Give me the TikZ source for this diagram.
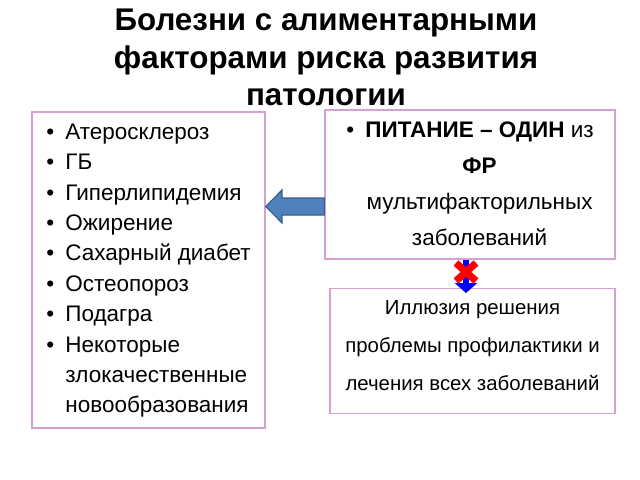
\documentclass[tikz,border=0pt]{standalone}
\usepackage{fontspec}
\setmainfont{Liberation Sans}
\usepackage{tikz}
\usetikzlibrary{arrows.meta}
\usetikzlibrary{calc}
\usetikzlibrary{positioning}
\definecolor{framecolour}{RGB}{214,160,214}
\definecolor{arrowfill}{RGB}{79,129,189}
\definecolor{arrowline}{RGB}{56,93,138}
\tikzstyle{frame}     = [draw=framecolour, line width=.9pt, fill=white, inner sep=0pt]
\tikzstyle{heading}   = [font=\bfseries\fontsize{22.3}{26.5}\selectfont, align=center, inner sep=0pt]
\tikzstyle{blockarrow}= [fill=arrowfill, draw=arrowline, line width=.8pt]
\tikzstyle{downarrow} = [draw=blue, line width=0.15cm, -{Triangle[width=0.55cm, length=0.25cm]}]
\tikzstyle{crossout}  = [draw=red, line width=0.18cm]

\begin{document}
\begin{tikzpicture}[x=0.025cm, y=-0.025cm]
    \useasboundingbox (0,0) rectangle (640,480);
    \draw (326,9) node[heading, anchor=north] (title)
      {Болезни с алиментарными\\факторами риска развития\\патологии};
    \draw (148.5,270) node[frame, minimum width=5.825cm, minimum height=7.9cm] (risks)
      {\fontsize{16}{21.6}\selectfont
       \begin{tabular}{@{}l@{\hspace{8pt}}l@{}}
       \textbullet & Атеросклероз\\
       \textbullet & ГБ\\
       \textbullet & Гиперлипидемия\\
       \textbullet & Ожирение\\
       \textbullet & Сахарный диабет\\
       \textbullet & Остеопороз\\
       \textbullet & Подагра\\
       \textbullet & Некоторые\\
                   & злокачественные\\
                   & новообразования
       \end{tabular}};
    \draw (470,184.5) node[frame, minimum width=7.25cm, minimum height=3.725cm] (food)
      {\fontsize{16}{25.6}\selectfont
       \begin{tabular}{@{}l@{\hspace{8pt}}c@{}}
       \textbullet & \textbf{ПИТАНИЕ – ОДИН} из\\
                   & \textbf{ФР}\\
                   & мультифакторильных\\
                   & заболеваний
       \end{tabular}};
    \draw (472.5,351) node[frame, minimum width=7.125cm, minimum height=3.05cm] (illusion)
      {\fontsize{14.5}{26.7}\selectfont
       \begin{tabular}{@{}c@{}}
       Иллюзия решения\\
       проблемы профилактики и\\
       лечения всех заболеваний\\[0.3cm]
       \end{tabular}};
    \draw[blockarrow] (food.west |- 0,198) -- (282,198) -- (282,190)
      -- (risks.east |- 0,206.5) -- (282,223) -- (282,215) -- (food.west |- 0,215) -- cycle;
    \draw[downarrow] (466,0 |- food.south) -- ($(466,0 |- illusion.north)+(0,5)$);
    \draw[crossout] (456,263) -- (476,281);
    \draw[crossout] (476,263) -- (456,281);
\end{tikzpicture}
\end{document}
